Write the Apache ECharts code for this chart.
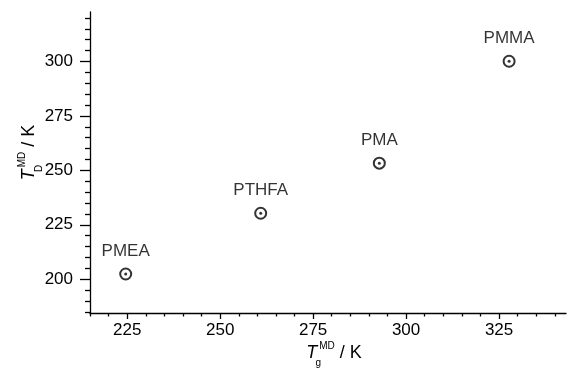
<!DOCTYPE html>
<html>
<head>
<meta charset="utf-8">
<script src="https://cdn.jsdelivr.net/npm/echarts@6/dist/echarts.min.js"></script>
<style>
  html, body { margin: 0; padding: 0; background: #fff; }
  #chart { width: 568px; height: 370px; }
</style>
</head>
<body>
<div id="chart"></div>
<script>
// polymer names and their MD temperatures
const polymers = ['PMEA', 'PTHFA', 'PMA', 'PMMA'];
const tgValues = [224.6, 260.9, 292.8, 327.7];
const tdValues = [202.4, 230.3, 253.3, 300.1];

const xMajorTicks = [225, 250, 275, 300, 325];
const xMinorTicks = [215, 220, 230, 235, 240, 245, 255, 260, 265, 270, 280, 285, 290, 295, 305, 310, 315, 320, 330, 335, 340];
const yMajorTicks = [200, 225, 250, 275, 300];
const yMinorTicks = [185, 190, 195, 205, 210, 215, 220, 230, 235, 240, 245, 255, 260, 265, 270, 280, 285, 290, 295, 305, 310, 315, 320];

const points = tgValues.map((x, i) => [x, tdValues[i], polymers[i]]);

const FONT = 'Liberation Sans, Arial, sans-serif';
const nameRich = {
    it: { fontFamily: FONT, fontStyle: 'italic', fontSize: 18, color: '#000', lineHeight: 30, verticalAlign: 'middle' },
    sup: { fontFamily: FONT, fontSize: 10, color: '#000', lineHeight: 11, verticalAlign: 'top', padding: [3, 0, 0, 0] },
    sub: { fontFamily: FONT, fontSize: 10, color: '#000', lineHeight: 11, verticalAlign: 'bottom', width: 2 },
    n: { fontFamily: FONT, fontSize: 18, color: '#000', lineHeight: 30, verticalAlign: 'middle' }
};

function baseAxis(min, max) {
    return {
        type: 'value',
        min: min,
        max: max,
        splitLine: { show: false },
        axisLine: { show: true, onZero: false, lineStyle: { color: '#000', width: 1.3 } }
    };
}

const myChart = echarts.init(document.getElementById('chart'));

const xMain = Object.assign(baseAxis(215, 343), {
    position: 'bottom',
    name: '{it|T}{sub|g}{sup|MD}{n| / K}',
    nameLocation: 'middle',
    nameGap: 25,
    nameMoveOverlap: false,
    nameTextStyle: { rich: nameRich, padding: [0, 0, 0, 12] },
    axisTick: { show: true, customValues: xMajorTicks, length: 6, lineStyle: { color: '#000', width: 1.3 } },
    axisLabel: { customValues: xMajorTicks, fontFamily: FONT, fontSize: 17, color: '#000', margin: 9 }
});
const xMinor = Object.assign(baseAxis(215, 343), {
    position: 'bottom',
    axisLine: { show: false, onZero: false },
    axisTick: { show: true, customValues: xMinorTicks, length: 3.5, lineStyle: { color: '#000', width: 1.3 } },
    axisLabel: { show: false }
});
const yMain = Object.assign(baseAxis(184.5, 322.7), {
    position: 'left',
    name: '{it|T}{sub|D}{sup|MD}{n| / K}',
    nameLocation: 'middle',
    nameGap: 46,
    nameMoveOverlap: false,
    nameTextStyle: { rich: nameRich, padding: [0, 0, 0, 20] },
    axisTick: { show: true, customValues: yMajorTicks, length: 10, lineStyle: { color: '#000', width: 1.3 } },
    axisLabel: { customValues: yMajorTicks, fontFamily: FONT, fontSize: 17, color: '#000', margin: 17 }
});
const yMinor = Object.assign(baseAxis(184.5, 322.7), {
    position: 'left',
    axisLine: { show: false, onZero: false },
    axisTick: { show: true, customValues: yMinorTicks, length: 5, lineStyle: { color: '#000', width: 1.3 } },
    axisLabel: { show: false }
});

const option = {
    backgroundColor: '#fff',
    animation: false,
    grid: { left: 90, right: 2, top: 12, bottom: 57, containLabel: false, outerBoundsMode: 'none' },
    xAxis: [xMain, xMinor],
    yAxis: [yMain, yMinor],
    series: [
        {
            type: 'scatter',
            data: points,
            symbol: 'circle',
            symbolSize: 11,
            itemStyle: { color: '#fff', borderColor: '#000', borderWidth: 2 },
            label: {
                show: true,
                position: 'top',
                distance: 8,
                formatter: p => p.data[2],
                fontFamily: FONT,
                fontSize: 17,
                color: '#000'
            }
        },
        {
            // center dot of each marker
            type: 'scatter',
            data: points,
            symbol: 'circle',
            symbolSize: 3,
            itemStyle: { color: '#000' }
        }
    ]
};

myChart.setOption(option);
</script>
</body>
</html>
